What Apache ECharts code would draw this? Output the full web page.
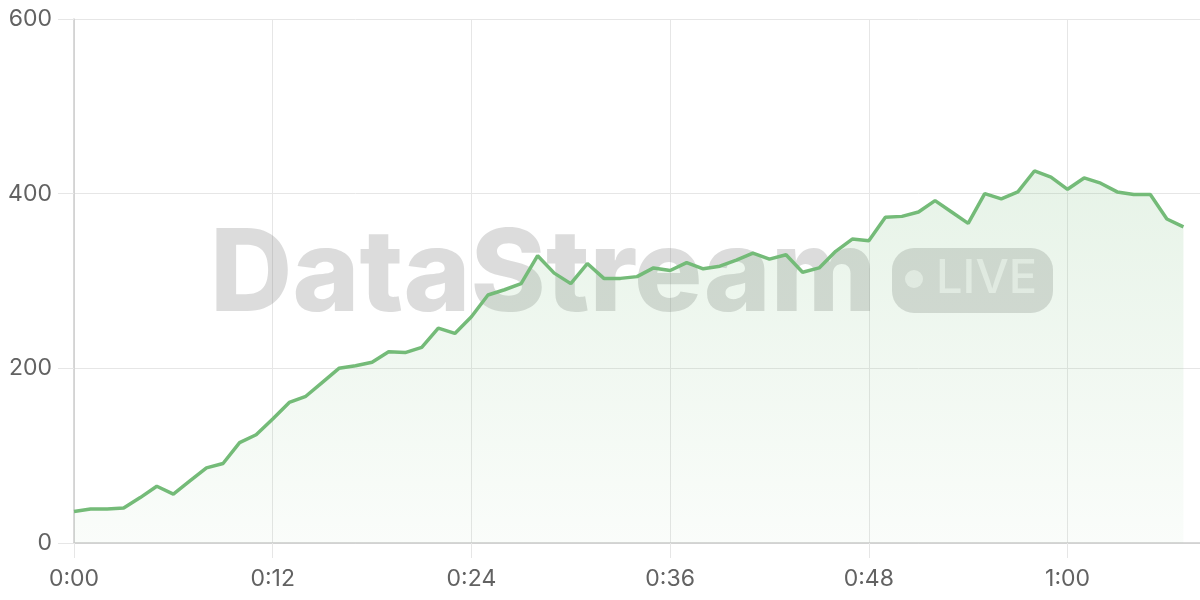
<!DOCTYPE html>
<html>
<head>
<meta charset="utf-8">
<script src="https://cdn.jsdelivr.net/npm/echarts@6/dist/echarts.min.js"></script>
<style>
  html, body { margin: 0; padding: 0; background: #fff; }
  #chart { width: 1200px; height: 600px; }
</style>
</head>
<body>
<div id="chart"></div>
<script>
// one reading per minute, starting at 0:00
const values = [
    36, 39, 39, 40, 52, 65, 56, 71, 86, 91,
    115, 124, 142, 161, 168, 184, 200, 203, 207, 219,
    218, 224, 246, 240, 259, 284, 290, 297, 329, 309,
    297, 320, 303, 303, 305, 315, 312, 321, 314, 317,
    324, 332, 325, 330, 310, 315, 334, 348, 346, 373,
    374, 379, 392, 379, 366, 400, 394, 402, 426, 419,
    405, 418, 412, 402, 399, 399, 371, 362
];
const yTicks = [0, 200, 400, 600];
const xTickStep = 12;      // minutes between time labels
const xMaxMinute = 68;
const watermarkText = 'DataStream';
const badgeText = 'LIVE';

function fmtMinute(v) {
    const h = Math.floor(v / 60);
    const m = v % 60;
    return h + ':' + (m < 10 ? '0' + m : m);
}

const seriesData = values.map(function (v, i) { return [i, v]; });

const chart = echarts.init(document.getElementById('chart'));

const lightLine = '#e6e6e6';
const labelFont = 'Inter, "Noto Sans", sans-serif';
const markFill = 'rgba(110,110,110,0.24)';

const option = {
    animation: false,
    backgroundColor: '#ffffff',
    grid: { left: 74, right: 0, top: 19, bottom: 57 },
    graphic: [
        {
            type: 'text',
            left: 210,
            top: 220,
            z: 1,
            style: {
                text: watermarkText,
                font: '800 114px Inter, "Noto Sans", sans-serif',
                fill: markFill
            }
        },
        {
            type: 'rect',
            left: 892,
            top: 248,
            z: 1,
            shape: { width: 161, height: 65, r: 22 },
            style: { fill: markFill }
        },
        {
            type: 'circle',
            left: 905,
            top: 270,
            z: 1,
            shape: { r: 9 },
            style: { fill: 'rgba(255,255,255,0.6)' }
        },
        {
            type: 'text',
            left: 936,
            top: 255,
            z: 1,
            style: {
                text: badgeText,
                font: '500 47px Inter, "Noto Sans", sans-serif',
                fill: 'rgba(255,255,255,0.6)'
            }
        }
    ],
    xAxis: {
        type: 'value',
        min: 0,
        max: xMaxMinute,
        interval: xTickStep,
        axisLine: { show: true, lineStyle: { color: '#cccccc', width: 1.5 } },
        axisTick: { show: true, length: 15, lineStyle: { color: lightLine } },
        axisLabel: {
            color: '#626262',
            fontSize: 23,
            fontFamily: labelFont,
            margin: 25,
            showMaxLabel: false,
            formatter: fmtMinute
        },
        splitLine: { show: true, lineStyle: { color: lightLine, width: 1 } }
    },
    yAxis: {
        type: 'value',
        min: yTicks[0],
        max: yTicks[yTicks.length - 1],
        interval: yTicks[1] - yTicks[0],
        axisLine: { show: true, lineStyle: { color: '#cccccc', width: 1.5 } },
        axisTick: { show: true, length: 16, lineStyle: { color: lightLine } },
        axisLabel: {
            color: '#626262',
            fontSize: 23,
            fontFamily: labelFont,
            margin: 22
        },
        splitLine: { show: true, lineStyle: { color: lightLine, width: 1 } }
    },
    series: [
        {
            type: 'line',
            data: seriesData,
            showSymbol: false,
            smooth: false,
            z: 3,
            lineStyle: { color: '#74bb78', width: 3.5 },
            areaStyle: {
                color: new echarts.graphic.LinearGradient(0, 0, 0, 1, [
                    { offset: 0, color: 'rgba(116,187,120,0.25)' },
                    { offset: 1, color: 'rgba(116,187,120,0.05)' }
                ])
            }
        }
    ]
};

chart.setOption(option);
</script>
</body>
</html>
